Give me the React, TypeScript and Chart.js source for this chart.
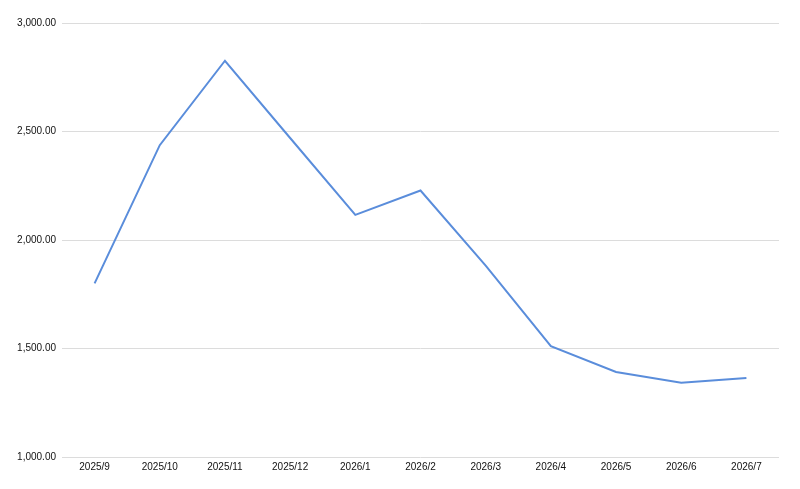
import React, { useEffect, useRef } from "react";
import { Chart, registerables } from "chart.js";

Chart.register(...registerables);

const categories = [
  "2025/9", "2025/10", "2025/11", "2025/12", "2026/1", "2026/2",
  "2026/3", "2026/4", "2026/5", "2026/6", "2026/7",
];
const seriesValues = [1800, 2437, 2826, 2470, 2116, 2228, 1882, 1511, 1392, 1342, 1364];
const yTicks = [1000, 1500, 2000, 2500, 3000];

export default function App() {
  const ref = useRef<HTMLCanvasElement | null>(null);
  useEffect(() => {
    if (!ref.current) return;
    const chart = new Chart(ref.current, {
      type: "line",
      data: {
        labels: categories,
        datasets: [
          {
            data: seriesValues,
            borderColor: "#5a8ddb",
            borderWidth: 2,
            pointRadius: 0,
            tension: 0,
            fill: false,
          },
        ],
      },
      options: {
        animation: false,
        responsive: false,
        maintainAspectRatio: false,
        layout: { padding: { top: 23, right: 21, left: 0, bottom: 0 } },
        plugins: { legend: { display: false }, tooltip: { enabled: false } },
        scales: {
          x: {
            offset: true,
            grid: { display: false, drawTicks: false },
            border: { display: false },
            ticks: {
              padding: 4,
              color: "#111",
              maxRotation: 0,
              autoSkip: false,
              font: { family: "'Liberation Sans', Arial, sans-serif", size: 10 },
            },
            afterFit: (s: any) => { s.height = 32; },
          },
          y: {
            min: yTicks[0],
            max: yTicks[yTicks.length - 1],
            afterBuildTicks: (s: any) => { s.ticks = yTicks.map((v) => ({ value: v })); },
            grid: { color: "#dcdcdc", lineWidth: 1, drawTicks: false },
            border: { display: false },
            ticks: {
              padding: 6,
              color: "#111",
              font: { family: "'Liberation Sans', Arial, sans-serif", size: 10 },
              callback: (v: any) =>
                Number(v).toLocaleString("en-US", { minimumFractionDigits: 2, maximumFractionDigits: 2 }),
            },
            afterFit: (s: any) => { s.width = 62; },
          },
        },
      },
    });
    return () => chart.destroy();
  }, []);
  return (
    <div style={{ position: "absolute", left: 0, top: 0, width: 800, height: 489, background: "#fff" }}>
      <canvas ref={ref} width={800} height={489} style={{ width: 800, height: 489 }} />
    </div>
  );
}
